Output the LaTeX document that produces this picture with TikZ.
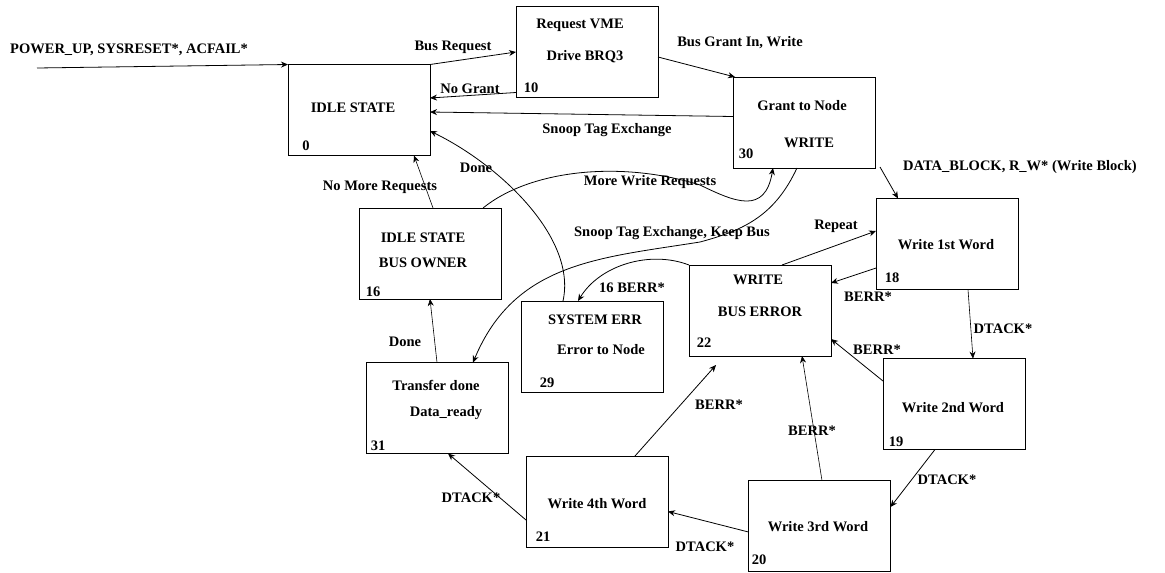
\documentclass[tikz,border=0pt]{standalone}
\usepackage{fontspec}
\setmainfont{Liberation Serif}
\usetikzlibrary{arrows.meta,calc}
\begin{document}
\begin{tikzpicture}[x=1pt,y=-1pt,
  box/.style={draw, line width=1pt, minimum width=142pt, minimum height=91pt, inner sep=0pt, outer sep=0pt},
  txt/.style={font=\fontsize{14.5}{16}\selectfont\bfseries, inner sep=0pt},
  arr/.style={line width=0.8pt, -{Stealth[length=7pt,width=6pt]}},
  ln/.style={line width=0.8pt}]
\useasboundingbox (0,0) rectangle (1165,573);

% state boxes
\node[box] (s0)  at (359,110) {};
\node[box] (s10) at (587,52) {};
\node[box] (s30) at (804,122.5) {};
\node[box] (s18) at (947,244) {};
\node[box] (s16) at (430,253.5) {};
\node[box] (s29) at (592.5,346.5) {};
\node[box] (s22) at (760,310.5) {};
\node[box] (s31) at (437,408) {};
\node[box] (s21) at (597,501.5) {};
\node[box] (s20) at (819.5,526) {};
\node[box] (s19) at (954,404) {};

% box texts
\node[txt] (t0a) at (353,108) {IDLE STATE};
\node[txt] (t0n) at (306,146) {0};
\node[txt] (t10a) at (580,25) {Request VME};
\node[txt] (t10b) at (585,57) {Drive BRQ3};
\node[txt] (t10n) at (531,88) {10};
\node[txt] (t30a) at (802,106) {Grant to Node};
\node[txt] (t30b) at (809,143) {WRITE};
\node[txt] (t30n) at (746,154) {30};
\node[txt] (t18a) at (946,245) {Write 1st Word};
\node[txt] (t18n) at (892,278) {18};
\node[txt] (t16a) at (423,238) {IDLE STATE};
\node[txt] (t16b) at (423,263) {BUS OWNER};
\node[txt] (t16n) at (373,292) {16};
\node[txt] (t29a) at (595,320) {SYSTEM ERR};
\node[txt] (t29b) at (601,350) {Error to Node};
\node[txt] (t29n) at (547,383) {29};
\node[txt] (t22a) at (758,280) {WRITE};
\node[txt] (t22b) at (760,312) {BUS ERROR};
\node[txt] (t22n) at (704,343) {22};
\node[txt] (t31a) at (436,385) {Transfer done};
\node[txt] (t31b) at (446,413) {Data\_ready};
\node[txt] (t31n) at (378,446) {31};
\node[txt] (t21a) at (597,504) {Write 4th Word};
\node[txt] (t21n) at (543,537) {21};
\node[txt] (t20a) at (818,527) {Write 3rd Word};
\node[txt] (t20n) at (759,560) {20};
\node[txt] (t19a) at (953,408) {Write 2nd Word};
\node[txt] (t19n) at (896,442) {19};

% free ends
\coordinate (pin) at (37,68);
\coordinate (dbstart) at (880,167);

% connectors
\draw[arr] (pin) -- (s0.north west);
\draw[arr] (s0.north east) -- (s10.west);
\draw[arr] ([yshift=5pt]s10.south west) -- ([yshift=12pt]s0.east);
\draw[arr] ([yshift=-5pt]s10.east) -- ([xshift=2pt]s30.north west);
\draw[arr] ([yshift=6pt]s30.west) -- ([yshift=-2pt]s0.east);
\draw[arr] ([xshift=-29.5pt]s29.north) .. controls (577,238) and (500,165) .. ([yshift=-21pt]s0.east);
\draw[arr] ([xshift=53pt]s16.north) .. controls (530,170) and (620,160) .. (700,185)
   .. controls (735,202) and (765,215) .. ([xshift=-31pt]s30.south);
\draw[arr] ([xshift=-7pt]s30.south) .. controls (775,215) and (745,230) .. (700,242)
   .. controls (600,258) and (515,262) .. ([xshift=36pt]s31.north);
\draw[arr, line width=0.6pt] ([xshift=3pt]s16.north) -- ([xshift=55pt]s0.south);
\draw[arr, line width=0.6pt] (s31.north) -- (s16.south);
\draw[arr] (s22.north west) .. controls (650,250) and (600,265) .. ([xshift=-14.5pt]s29.north);
\draw[arr] ([xshift=22pt]s22.north) -- ([yshift=13pt]s18.west);
\draw[arr] ([yshift=-24pt]s18.west) -- ([yshift=27.5pt]s22.east);
\draw[arr] (dbstart) -- ([xshift=-49pt]s18.north);
\draw[arr, line width=0.6pt] ([xshift=21pt]s18.south) -- ([xshift=19pt]s19.north);
\draw[arr] ([yshift=23pt]s19.west) -- ([yshift=-28.5pt]s22.east);
\draw[arr] ([xshift=-19pt]s19.south) -- ([yshift=19pt]s20.east);
\draw[arr, line width=0.6pt] ([xshift=2.5pt]s20.north) -- ([xshift=42pt]s22.south);
\draw[arr] ([xshift=38pt]s21.north) -- ([xshift=-44pt,yshift=-9pt]s22.south);
\draw[arr] ([yshift=-6pt]s20.west) -- ([yshift=-10pt]s21.east);
\draw[arr] ([yshift=-18.5pt]s21.west) -- ([xshift=11pt]s31.south);

% connector labels
\node[txt, anchor=west] (l1) at (10,50) {POWER\_UP, SYSRESET*, ACFAIL*};
\node[txt] (l2) at (453,47) {Bus Request};
\node[txt] (l3) at (470,89) {No Grant};
\node[txt] (l4) at (740,43) {Bus Grant In, Write};
\node[txt] (l5) at (607,130) {Snoop Tag Exchange};
\node[txt] (l6) at (476,168) {Done};
\node[txt] (l7) at (650,182) {More Write Requests};
\node[txt] (l8) at (380,187) {No More Requests};
\node[txt] (l9) at (672,233) {Snoop Tag Exchange, Keep Bus};
\node[txt] (l10) at (405,342) {Done};
\node[txt] (l11) at (632,288) {16 BERR*};
\node[txt] (l12) at (836,226) {Repeat};
\node[txt] (l13) at (868,297) {BERR*};
\node[txt, anchor=west] (l14) at (903,167) {DATA\_BLOCK, R\_W* (Write Block)};
\node[txt] (l15) at (1003,329) {DTACK*};
\node[txt] (l16) at (877,350) {BERR*};
\node[txt] (l17) at (947,480) {DTACK*};
\node[txt] (l18) at (812,431) {BERR*};
\node[txt] (l19) at (719,405) {BERR*};
\node[txt] (l20) at (705,547) {DTACK*};
\node[txt] (l21) at (471,498) {DTACK*};
\end{tikzpicture}
\end{document}
